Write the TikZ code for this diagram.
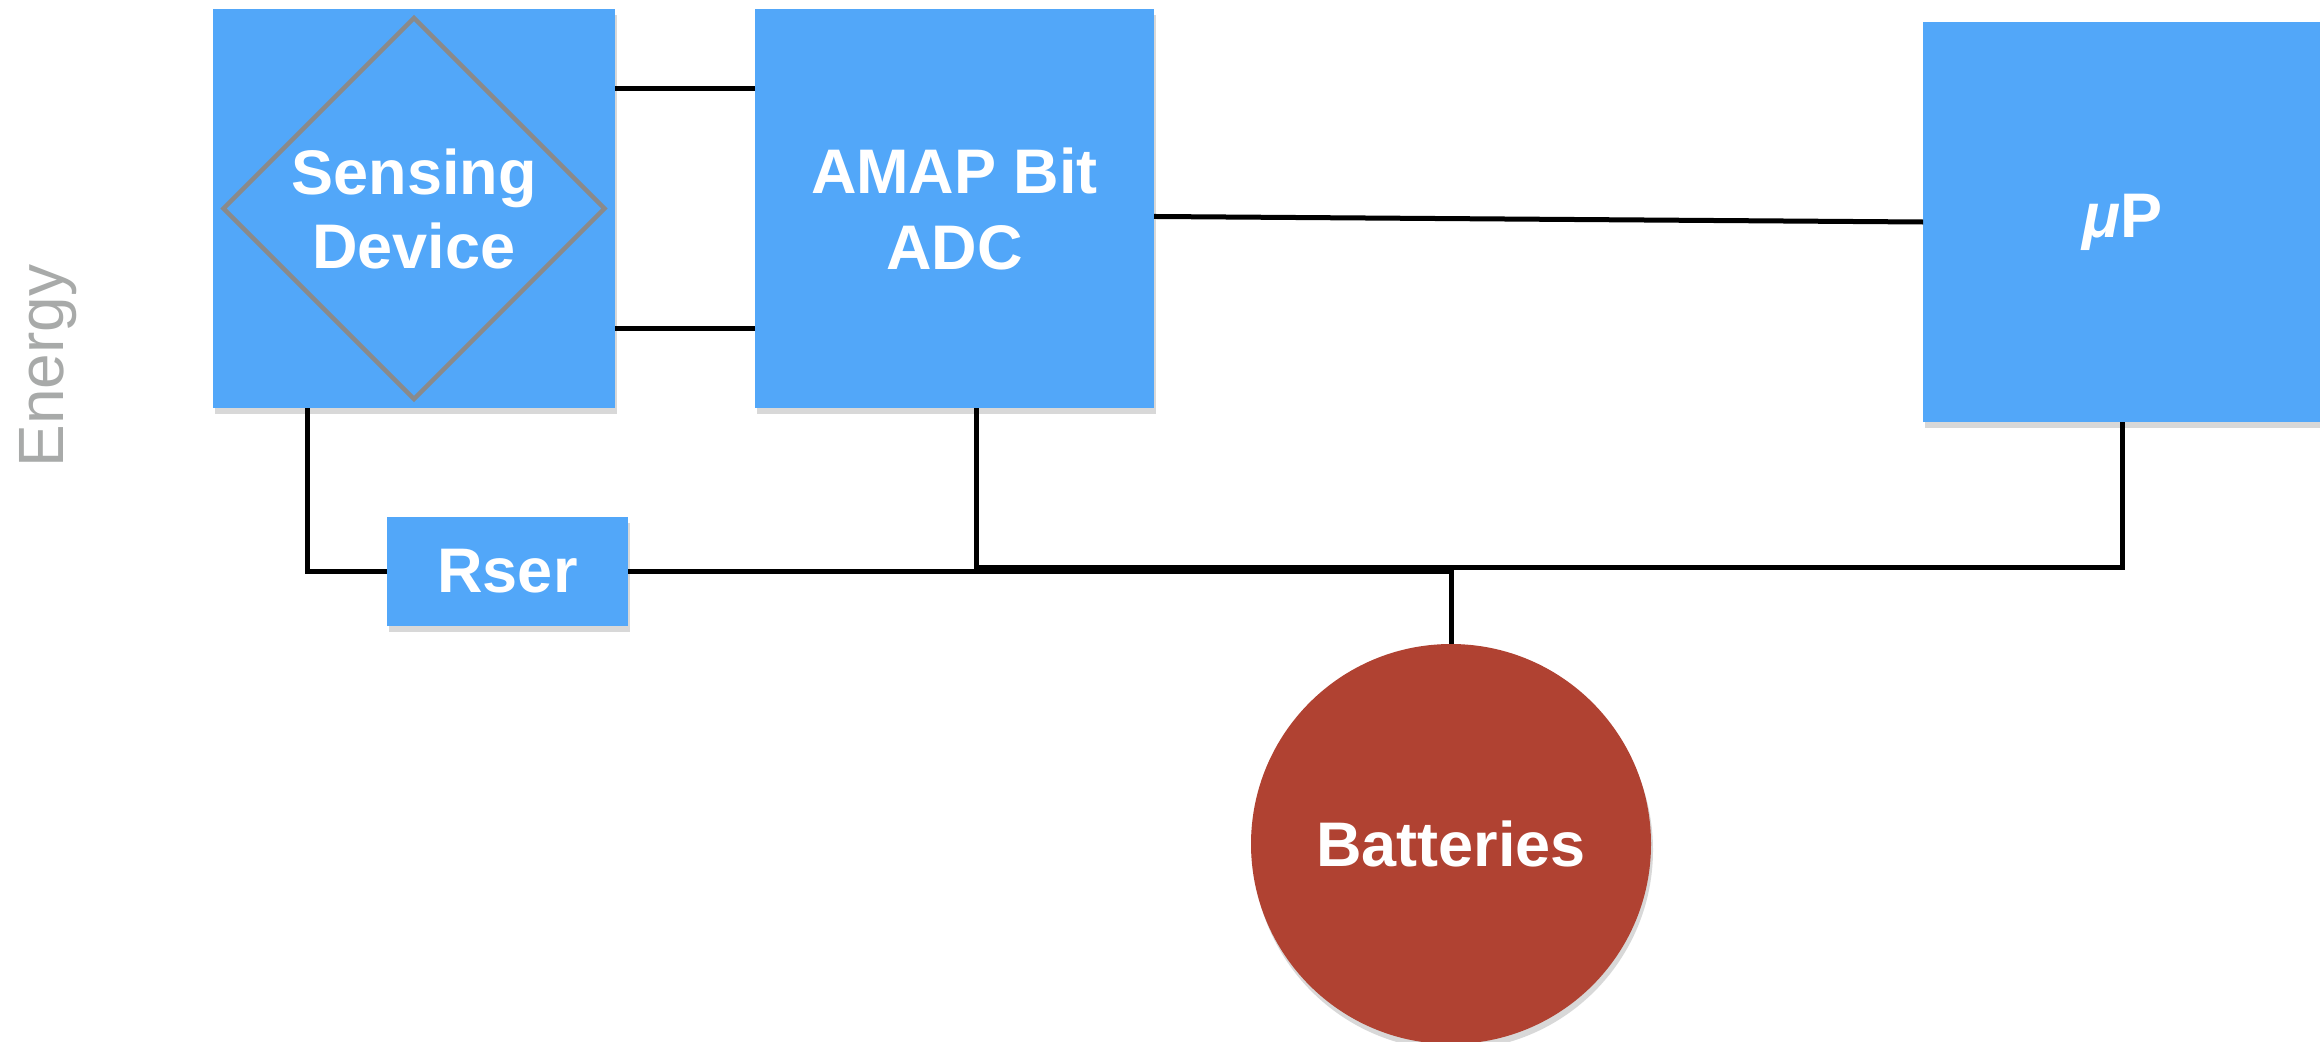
\documentclass[tikz,border=0pt]{standalone}
\usepackage{fontspec}
\setmainfont{Liberation Sans}
\usetikzlibrary{calc,shadows}
\definecolor{boxblue}{RGB}{82,167,249}
\definecolor{batred}{RGB}{176,66,50}
\definecolor{dgray}{RGB}{138,138,138}
\definecolor{egray}{RGB}{168,170,169}
\begin{document}
\begin{tikzpicture}[x=1pt,y=-1pt,
  blk/.style={rectangle, fill=boxblue, draw=none, inner sep=0pt, outer sep=0pt,
    text=white, font=\fontsize{63}{76}\selectfont\bfseries, align=center,
    drop shadow={shadow xshift=2pt, shadow yshift=-6pt, opacity=0.3}},
  batt/.style={circle, fill=batred, draw=none, inner sep=0pt, outer sep=0pt,
    minimum size=400pt, text=white, font=\fontsize{63}{76}\selectfont\bfseries,
    drop shadow={shadow xshift=2pt, shadow yshift=-6pt, opacity=0.3}},
  wire/.style={draw=black, line width=5pt},
  dia/.style={draw=dgray, line width=4.5pt},
  lbl/.style={text=egray, font=\fontsize{64}{70}\selectfont}]
\useasboundingbox[fill=white] (0,0) rectangle (2320,1041);

\node[blk, minimum width=402pt, minimum height=399pt] (sens) at (414,208.5) {};
\draw[dia] ($(sens.center)+(0,-190.5)$) -- ($(sens.center)+(190.5,0)$)
  -- ($(sens.center)+(0,190.5)$) -- ($(sens.center)+(-190.5,0)$) -- cycle;
\node[text=white, font=\fontsize{63}{74}\selectfont\bfseries, align=center] (senstext) at (sens.center) {Sensing\\Device};

\node[blk, minimum width=399pt, minimum height=399pt] (amap) at (954.5,208.5) {AMAP Bit\\ADC};
\node[blk, minimum width=398pt, minimum height=400pt] (up) at (2122,222) {{\itshape μ}P};
\node[blk, minimum width=241pt, minimum height=109pt] (rser) at (507.5,571) {Rser};
\node[batt] (bat) at (1451,844) {Batteries};
\node[lbl, rotate=90] (energy) at (48,366) {Energy};

\coordinate (bus) at (0,567);
\draw[wire] ($(sens.north east)!0.2!(sens.south east)$) coordinate (s1) -- (s1 -| amap.west);
\draw[wire] ($(sens.north east)!0.8!(sens.south east)$) coordinate (s2) -- (s2 -| amap.west);
\draw[wire] ($(amap.north east)!0.52!(amap.south east)$) -- (up.west);
\draw[wire] ($(sens.south west)!0.234!(sens.south east)$) |- (rser.west);
\draw[wire] (rser.east) -| (bat.north);
\draw[wire] ($(amap.south west)!0.556!(amap.south east)$) coordinate (a1) -- (a1 |- bus) -| (up.south);
\end{tikzpicture}
\end{document}
